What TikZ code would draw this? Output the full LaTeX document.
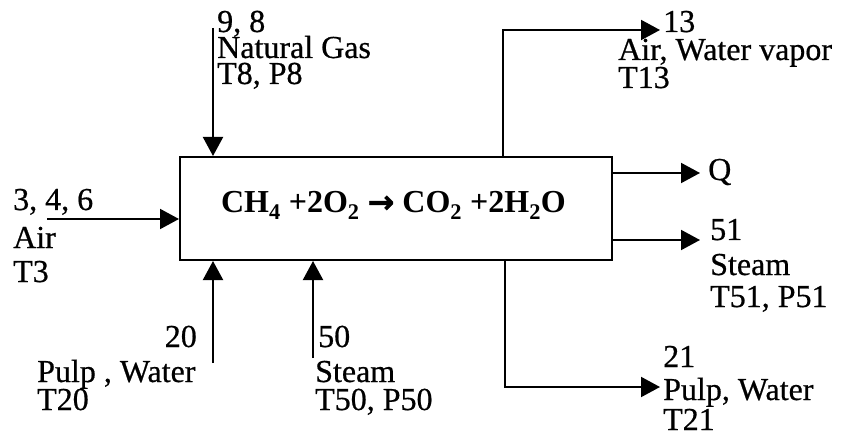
\documentclass[tikz,border=0pt]{standalone}
\usepackage{fontspec}
\setmainfont{Liberation Serif}
\newfontfamily\heavyserif{Liberation Serif}[FakeBold=0.6]
\newfontfamily\arrowfont{DejaVu Sans}[FakeBold=1]
\usetikzlibrary{arrows.meta}
\begin{document}
\begin{tikzpicture}[x=1pt,y=-1pt,
  lbl/.style={anchor=base west,inner sep=0pt,font=\fontsize{32}{32}\selectfont\heavyserif},
  lble/.style={lbl,anchor=base east},
  flow/.style={line width=2pt,-{Triangle[length=19pt,width=20pt]}},
  unit/.style={draw,line width=2pt,minimum width=432pt,minimum height=103pt,inner sep=0pt}]
\useasboundingbox (0,0) rectangle (845,446);
% reactor box
\node[unit] (reactor) at (396,208.5) {};
\node[anchor=base,inner sep=0pt,font=\fontsize{32}{32}\selectfont\bfseries] (eqn) at (393.5,213)
  {CH\textsubscript{4} +2O\textsubscript{2} {\arrowfont →} CO\textsubscript{2} +2H\textsubscript{2}O};
% natural gas
\node[lbl] (ng1) at (217,32) {9, 8};
\node[lbl] (ng2) at (217,58) {Natural Gas};
\node[lbl] (ng3) at (217,84) {T8, P8};
% air
\node[lbl] (ai1) at (13,210) {3, 4, 6};
\node[lbl] (ai2) at (13,248) {Air};
\node[lbl] (ai3) at (13,282) {T3};
% pulp in
\node[lble] (pi1) at (197,347) {20};
\node[lbl] (pi2) at (37,382) {Pulp , Water};
\node[lbl] (pi3) at (37,410) {T20};
% steam in
\node[lbl] (si1) at (318,347) {50};
\node[lbl] (si2) at (315,382) {Steam};
\node[lbl] (si3) at (315,410) {T50, P50};
% exhaust
\node[lbl] (ex1) at (663,32) {13};
\node[lbl] (ex2) at (618,60) {Air, Water vapor};
\node[lbl] (ex3) at (618,88) {T13};
% heat
\node[lbl] (q) at (708,180) {Q};
% steam out
\node[lbl] (so1) at (710,240) {51};
\node[lbl] (so2) at (710,275) {Steam};
\node[lbl] (so3) at (710,307) {T51, P51};
% pulp out
\node[lbl] (po1) at (663,367) {21};
\node[lbl] (po2) at (663,400) {Pulp, Water};
\node[lbl] (po3) at (663,430) {T21};
% connectors
\coordinate (ngtail) at (213,28);
\draw[flow] (ngtail) -- (ngtail |- reactor.north);
\coordinate (airtail) at (47,219);
\draw[flow] (airtail) -- (airtail -| reactor.west);
\coordinate (pwtail) at (213,363);
\draw[flow] (pwtail) -- (pwtail |- reactor.south);
\coordinate (sttail) at (313,358);
\draw[flow] (sttail) -- (sttail |- reactor.south);
\coordinate (exbase) at (503,0);
\coordinate (exhead) at (660,30);
\draw[flow] (exbase |- reactor.north) |- (exhead);
\coordinate (qhead) at (700,173);
\draw[flow] (qhead -| reactor.east) -- (qhead);
\coordinate (sohead) at (700,240);
\draw[flow] (sohead -| reactor.east) -- (sohead);
\coordinate (pobase) at (505,0);
\coordinate (pohead) at (660,387);
\draw[flow] (pobase |- reactor.south) |- (pohead);
\end{tikzpicture}
\end{document}
